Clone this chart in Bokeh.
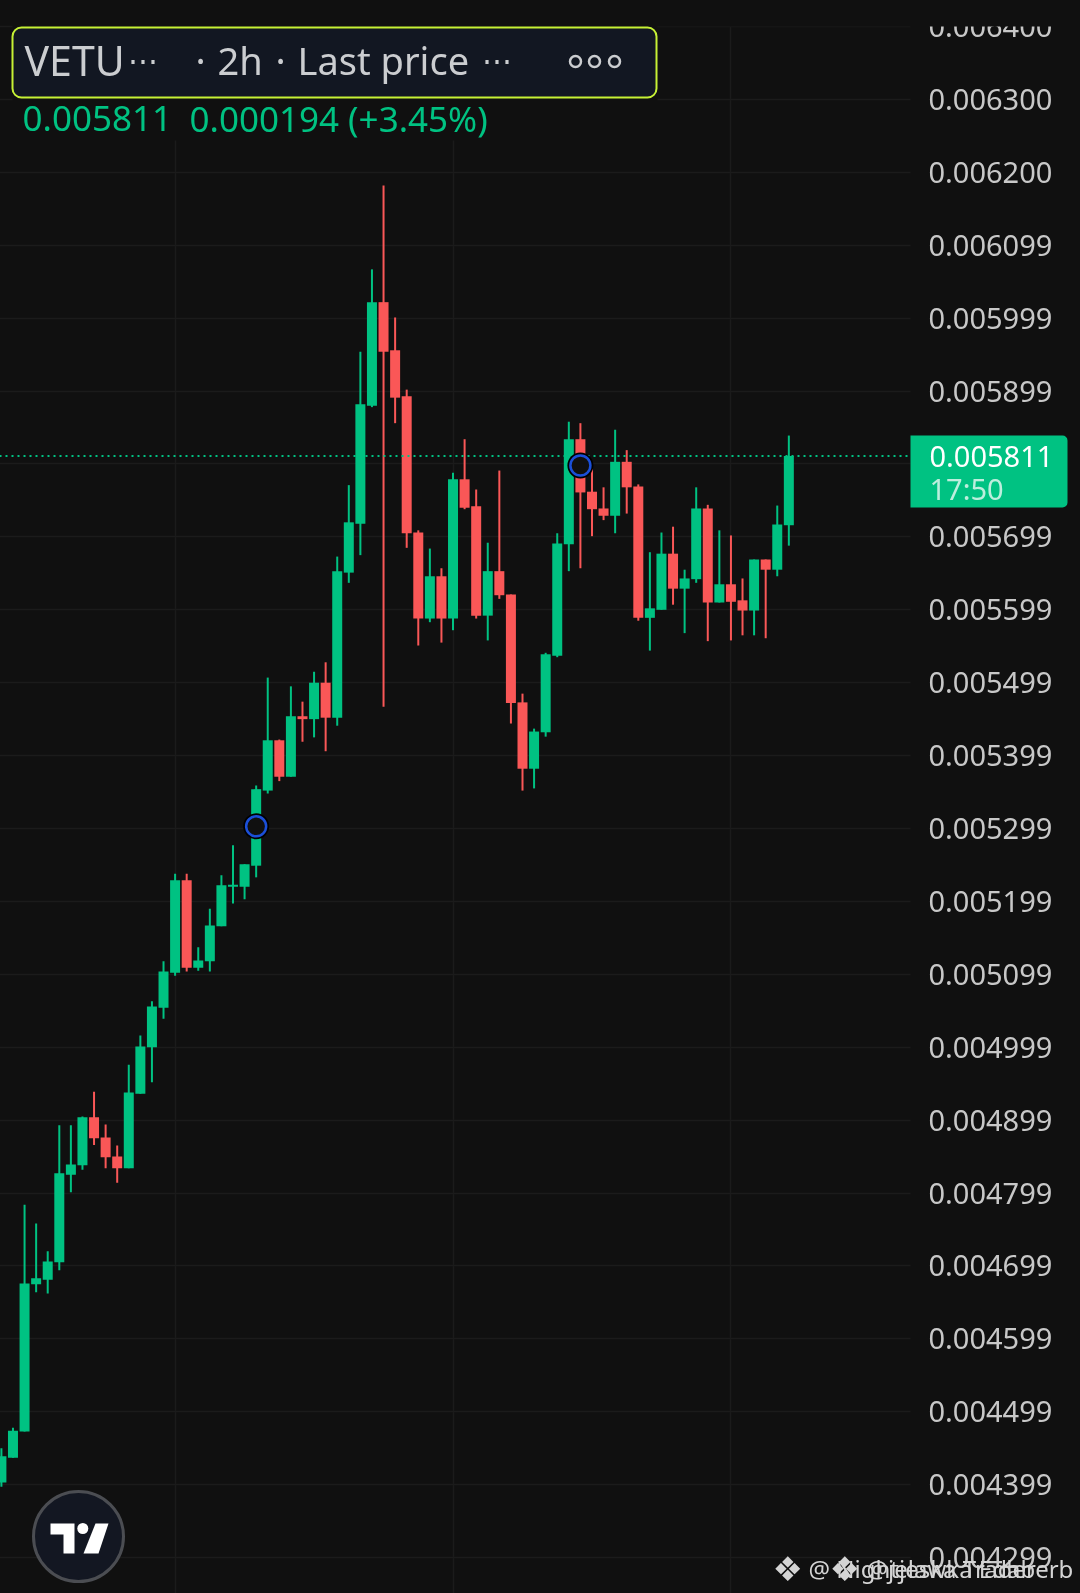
from bokeh.plotting import figure
from bokeh.embed import file_html
from bokeh.resources import INLINE
from bokeh.models import BoxAnnotation, FixedTicker, Label, Range1d

# --- candle data (prices) ---
highs = [0.004450,0.004478,0.004784,0.004758,0.004720,0.004893,0.004893,0.004905,0.004939,0.004894,
         0.004865,0.004976,0.005016,0.005063,0.005118,0.005238,0.005238,0.005137,0.005190,0.005236,
         0.005277,0.005251,0.005359,0.005507,0.005422,0.005495,0.005474,0.005515,0.005528,0.005673,
         0.005771,0.005954,0.006067,0.006182,0.006001,0.005902,0.005709,0.005684,0.005657,0.005788,
         0.005834,0.005765,0.005692,0.005791,0.005621,0.005485,0.005437,0.005541,0.005705,0.005858,
         0.005856,0.005794,0.005768,0.005847,0.005819,0.005772,0.005679,0.005706,0.005714,0.005655,
         0.005768,0.005744,0.005709,0.005702,0.005643,0.005669,0.005669,0.005743,0.005839]
lows = [0.004397,0.004437,0.004473,0.004664,0.004662,0.004694,0.004801,0.004832,0.004866,0.004834,
        0.004814,0.004834,0.004936,0.004952,0.005039,0.005098,0.005104,0.005105,0.005104,0.005166,
        0.005197,0.005203,0.005233,0.005348,0.005365,0.005371,0.005419,0.005425,0.005406,0.005441,
        0.005637,0.005675,0.005878,0.005467,0.005856,0.005685,0.005551,0.005583,0.005555,0.005572,
        0.005738,0.005588,0.005558,0.005615,0.005444,0.005352,0.005355,0.005426,0.005535,0.005653,
        0.005657,0.005701,0.005723,0.005705,0.005732,0.005585,0.005544,0.005600,0.005607,0.005568,
        0.005637,0.005557,0.005610,0.005558,0.005565,0.005565,0.005561,0.005646,0.005688]
opens = [0.004403,0.004437,0.004473,0.004675,0.004681,0.004705,0.004825,0.004838,0.004904,0.004876,
         0.004850,0.004834,0.004936,0.005000,0.005054,0.005102,0.005229,0.005109,0.005118,0.005166,
         0.005220,0.005220,0.005249,0.005352,0.005421,0.005371,0.005454,0.005450,0.005500,0.005452,
         0.005651,0.005718,0.005880,0.006022,0.005956,0.005893,0.005706,0.005588,0.005646,0.005588,
         0.005779,0.005742,0.005592,0.005653,0.005621,0.005473,0.005382,0.005432,0.005537,0.005690,
         0.005834,0.005762,0.005739,0.005729,0.005803,0.005769,0.005589,0.005600,0.005677,0.005629,
         0.005642,0.005739,0.005610,0.005635,0.005613,0.005599,0.005669,0.005655,0.005716]
closes = [0.004439,0.004474,0.004676,0.004683,0.004706,0.004827,0.004839,0.004904,0.004875,0.004849,
          0.004834,0.004938,0.005001,0.005056,0.005104,0.005229,0.005109,0.005119,0.005167,0.005222,
          0.005223,0.005251,0.005354,0.005421,0.005371,0.005454,0.005450,0.005500,0.005452,0.005653,
          0.005720,0.005882,0.006022,0.005954,0.005891,0.005705,0.005588,0.005646,0.005588,0.005779,
          0.005740,0.005592,0.005653,0.005620,0.005472,0.005382,0.005433,0.005539,0.005691,0.005834,
          0.005761,0.005738,0.005729,0.005803,0.005768,0.005589,0.005602,0.005677,0.005629,0.005643,
          0.005739,0.005610,0.005635,0.005611,0.005599,0.005669,0.005655,0.005717,0.005811]

# --- axis ---
tick_values = [0.0064,0.0063,0.0062,0.0061,0.0060,0.0059,0.0058,0.0057,0.0056,0.0055,0.0054,
               0.0053,0.0052,0.0051,0.0050,0.0049,0.0048,0.0047,0.0046,0.0045,0.0044,0.0043]
tick_labels = ["0.006400","0.006300","0.006200","0.006099","0.005999","0.005899","",
               "0.005699","0.005599","0.005499","0.005399","0.005299","0.005199","0.005099",
               "0.004999","0.004899","0.004799","0.004699","0.004599","0.004499","0.004399","0.004299"]
time_grid_candles = [15, 39, 63]

# --- markers / labels ---
marker_candles = [22, 50]
marker_prices = [0.005303, 0.005798]
last_price = 0.005811

BG = "#101010"; GRID = "#1b1b1b"; UP = "#00c282"; DOWN = "#fa5757"
W, H = 1080, 1593
PW = 910  # width of the chart pane; the price scale sits to its right
BLEED = 1  # figure overhangs the window by this much, so its frame edge stays off-page
Y_TOP = 0.0064358
Y_PER_PX = 1.37174e-6
X0 = 0.9; X_STEP = 11.58
def X(px): return (px - X0) / X_STEP
def Y(px): return Y_TOP - Y_PER_PX * px

p = figure(width=W + 2 * BLEED, height=H + 2 * BLEED, output_backend="svg", toolbar_location=None,
           x_range=Range1d(X(-BLEED), X(W + BLEED)), y_range=Range1d(Y(H + BLEED), Y(-BLEED)),
           y_axis_location="right", min_border=0,
           background_fill_color=BG, border_fill_color=BG, outline_line_color=None,
           styles={"position": "fixed", "left": f"{-BLEED}px", "top": f"{-BLEED}px"})

p.xaxis.visible = False
ya = p.yaxis[0]
ya.fixed_location = X(PW)
ya.ticker = FixedTicker(ticks=tick_values)
ya.major_label_overrides = dict(zip(tick_values, tick_labels))
ya.axis_line_color = None
ya.major_tick_line_color = None
ya.minor_tick_line_color = None
ya.major_tick_in = 0
ya.major_tick_out = 0
ya.major_label_standoff = 18
ya.major_label_text_font = "Noto Sans"
ya.major_label_text_font_size = "29px"
ya.major_label_text_color = "#c8c8c8"
p.ygrid.ticker = FixedTicker(ticks=tick_values)
p.ygrid.grid_line_color = GRID
p.ygrid.grid_line_width = 1.5
p.xgrid.ticker = FixedTicker(ticks=time_grid_candles)
p.xgrid.grid_line_color = GRID
p.xgrid.grid_line_width = 1.5

def cover(l, r, t, b):
    p.add_layout(BoxAnnotation(left=X(l), right=X(r), top=Y(t), bottom=Y(b), fill_color=BG, fill_alpha=1,
                               line_alpha=0, level="underlay"))
cover(PW, W + BLEED, -BLEED, H + BLEED)   # price-scale column has no grid
cover(12, 657, -BLEED, 140)               # header hides the time grid
cover(657, W + BLEED, -BLEED, 26)         # nothing above the top price line

# --- candles ---
idx = list(range(len(opens)))
colors = [UP if c >= o else DOWN for o, c in zip(opens, closes)]
p.segment(idx, highs, idx, lows, line_color=colors, line_width=2)
p.vbar(idx, top=[max(o, c) for o, c in zip(opens, closes)], bottom=[min(o, c) for o, c in zip(opens, closes)],
       width=10 / X_STEP, fill_color=colors, line_color=None)

# --- last price line ---
p.segment([X(-BLEED)], [last_price], [X(PW)], [last_price], line_color=UP, line_width=2, line_dash="2 4")

# --- event markers ---
p.scatter(marker_candles, marker_prices, size=26, fill_color="#000000", line_color=None)
p.scatter(marker_candles, marker_prices, size=20, fill_color=BG, line_color="#1b4fd8", line_width=2.5)

# --- legend header ---
def label(text, xpx, ypx, size, color, font="Noto Sans", align="left"):
    p.add_layout(Label(x=X(xpx), y=Y(ypx), text=text, text_font=font, text_font_size=f"{size}px",
                       text_color=color, text_baseline="middle", text_align=align, level="overlay"))

p.add_layout(BoxAnnotation(left=X(12), right=X(656), top=Y(27), bottom=Y(97), fill_color="#121722", fill_alpha=1,
                           line_color="#c6f135", line_width=2, line_alpha=1, border_radius=9, level="annotation"))
# the top price label is cut off at the pane's top line
p.add_layout(BoxAnnotation(left=X(PW), right=X(W + BLEED), top=Y(-BLEED), bottom=Y(26), fill_color=BG, fill_alpha=1,
                           line_alpha=0, level="annotation"))
HEAD = "#cbcdd0"
label("VETU", 24, 59, 41, HEAD)
label("⋯", 127, 59, 30, HEAD)
label("·", 195, 59, 38, HEAD)
label("2h", 217, 59, 38, HEAD)
label("·", 275, 59, 38, HEAD)
label("Last price", 297, 59, 38, HEAD)
label("⋯", 481, 59, 30, HEAD)
r = p.scatter([X(575), X(594), X(614)], [Y(61)] * 3, size=11, fill_color=None, line_color=HEAD, line_width=2.5)
r.level = "overlay"
label("0.005811", 22, 118, 35, UP)
label("0.000194 (+3.45%)", 189, 118, 35, UP)

# --- last price tag ---
p.add_layout(BoxAnnotation(left=X(910), right=X(1067), top=Y(435), bottom=Y(507), fill_color=UP, fill_alpha=1,
                           line_alpha=0, border_radius=(0, 5, 5, 0), level="annotation"))
label("0.005811", 929, 456, 29, "#ffffff")
label("17:50", 929, 488, 29, "#bdeedd")

# --- logo ---
r = p.scatter([X(78)], [Y(1536)], size=90, fill_color="#131722", line_color="#4b4d52", line_width=3)
r.level = "overlay"
xs = [[X(50), X(74), X(74), X(63), X(63), X(50)], [X(95), X(108), X(98), X(83)]]
ys = [[Y(1523), Y(1523), Y(1553), Y(1553), Y(1534), Y(1534)], [Y(1523), Y(1523), Y(1553), Y(1553)]]
r = p.patches(xs, ys, fill_color="#ffffff", line_color=None)
r.level = "overlay"
r = p.scatter([X(82.3)], [Y(1528)], size=11, fill_color="#ffffff", line_color=None)
r.level = "overlay"

# --- overlapping watermark ---
WM = "#d4d4d4"
label("❖", 772, 1568, 34, WM, font="DejaVu Sans")
label("@ Nightjeska Trader", 808, 1568, 24, WM)
label("❖", 829, 1568, 34, WM, font="DejaVu Sans")
label("@jelawka Edaberb", 866, 1568, 24, WM)

open("out.html", "w").write(file_html(p, INLINE))
